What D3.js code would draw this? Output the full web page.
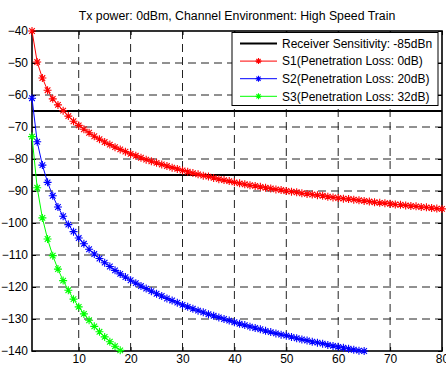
<!DOCTYPE html>
<html><head><meta charset="utf-8">
<script src="https://cdn.jsdelivr.net/npm/d3@7"></script>
<style>body{margin:0;background:#fff}svg{display:block}text{font-family:"Liberation Sans",Arial,sans-serif}</style>
</head><body><div id="chart"></div>
<script>
const title = "Tx power: 0dBm, Channel Environment: High Speed Train";
const xTicks = [10,20,30,40,50,60,70,80];
const yTicks = [-40,-50,-60,-70,-80,-90,-100,-110,-120,-130,-140];
const thresholds = [-65,-85];
const seriesNames = ["S1(Penetration Loss: 0dB)","S2(Penetration Loss: 20dB)","S3(Penetration Loss: 32dB)"];
const legendLineLabel = "Receiver Sensitivity: -85dBn";
const s1 = [-40.0,-49.7,-54.7,-58.5,-61.2,-63.1,-64.9,-66.6,-68.2,-69.5,
  -70.7,-71.8,-72.9,-73.8,-74.7,-75.5,-76.3,-77.0,-77.7,-78.4,
  -79.0,-79.6,-80.2,-80.7,-81.2,-81.7,-82.2,-82.7,-83.1,-83.6,
  -84.0,-84.4,-84.8,-85.2,-85.5,-85.9,-86.3,-86.6,-86.9,-87.3,
  -87.6,-87.9,-88.2,-88.4,-88.7,-89.0,-89.2,-89.5,-89.7,-90.0,
  -90.2,-90.4,-90.7,-90.9,-91.1,-91.3,-91.5,-91.8,-92.0,-92.2,
  -92.4,-92.5,-92.7,-92.9,-93.1,-93.3,-93.5,-93.7,-93.8,-94.0,
  -94.2,-94.3,-94.5,-94.7,-94.8,-95.0,-95.1,-95.3,-95.5,-95.6];
const s2 = [-61.0,-74.6,-81.9,-87.3,-91.5,-95.0,-97.9,-100.5,-102.7,-104.7,
  -106.5,-108.2,-109.7,-111.1,-112.4,-113.6,-114.8,-115.9,-116.9,-117.9,
  -118.8,-119.7,-120.5,-121.3,-122.1,-122.8,-123.6,-124.2,-124.9,-125.6,
  -126.2,-126.8,-127.4,-127.9,-128.5,-129.0,-129.5,-130.0,-130.5,-131.0,
  -131.5,-131.9,-132.4,-132.8,-133.2,-133.7,-134.1,-134.5,-134.9,-135.2,
  -135.6,-136.0,-136.4,-136.7,-137.1,-137.4,-137.7,-138.1,-138.4,-138.7,
  -139.0,-139.3,-139.6,-139.9,-140.0];
const s3 = [-73.0,-89.0,-98.4,-105.0,-110.2,-114.4,-118.0,-121.0,-123.8,-126.2,
  -128.4,-130.4,-132.3,-134.0,-135.6,-137.1,-138.5,-139.8];
const colors = ["#ff0000","#0000ff","#00ff00"];

const W = 446, H = 367;
const svg = d3.select("#chart").append("svg").attr("width",W).attr("height",H);
const x = d3.scaleLinear().domain([1,80]).range([32,442]);
const y = d3.scaleLinear().domain([-140,-40]).range([351,31]);

// grid
const g = svg.append("g");
g.selectAll("line.vg").data(xTicks.slice(0,-1)).join("line")
  .attr("x1",d=>x(d)).attr("x2",d=>x(d)).attr("y1",y(-40)).attr("y2",y(-140))
  .attr("stroke","#222").attr("stroke-width",1).attr("stroke-dasharray","8,5");
g.selectAll("line.hg").data(yTicks.slice(1,-1)).join("line")
  .attr("x1",x(1)).attr("x2",x(80)).attr("y1",d=>y(d)).attr("y2",d=>y(d))
  .attr("stroke","#222").attr("stroke-width",1).attr("stroke-dasharray","8,5");

// thresholds
g.selectAll("line.th").data(thresholds).join("line")
  .attr("x1",x(1)).attr("x2",x(80)).attr("y1",d=>y(d)).attr("y2",d=>y(d))
  .attr("stroke","#000").attr("stroke-width",2);

// axes
const xAxis = d3.axisBottom(x).tickValues(xTicks).tickSize(-4).tickPadding(3.5);
const yAxis = d3.axisLeft(y).tickValues(yTicks).tickSize(-4).tickPadding(4);
const xa = svg.append("g").attr("transform",`translate(0,${y(-140)})`).call(xAxis);
const ya = svg.append("g").attr("transform",`translate(${x(1)},0)`).call(yAxis);
const xt = svg.append("g").attr("transform",`translate(0,${y(-40)})`).call(d3.axisTop(x).tickValues(xTicks).tickSize(-4).tickFormat(""));
const yr = svg.append("g").attr("transform",`translate(${x(80)},0)`).call(d3.axisRight(y).tickValues(yTicks).tickSize(-4).tickFormat(""));
[xa,ya,xt,yr].forEach(a=>{
  a.select(".domain").remove();
  a.selectAll(".tick line").attr("stroke","#000");
  a.selectAll("text").attr("font-size",12).attr("fill","#000")
   .style("font-family","'Liberation Sans',Arial,sans-serif");
});
svg.append("rect").attr("x",x(1)).attr("y",y(-40)).attr("width",x(80)-x(1)).attr("height",y(-140)-y(-40))
  .attr("fill","none").attr("stroke","#000").attr("stroke-width",1.6);

// series
const all = [s1,s2,s3];
const line = d3.line().x((d,i)=>x(i+1)).y(d=>y(d));
function star(sel, cx, cy, col, r){
  const p = `M${cx-r},${cy}L${cx+r},${cy}M${cx},${cy-r}L${cx},${cy+r}` +
    `M${cx-r*0.7},${cy-r*0.7}L${cx+r*0.7},${cy+r*0.7}M${cx-r*0.7},${cy+r*0.7}L${cx+r*0.7},${cy-r*0.7}`;
  sel.append("path").attr("d",p).attr("stroke",col).attr("stroke-width",1.1).attr("fill","none");
}
all.forEach((data,k)=>{
  const sg = svg.append("g");
  sg.append("path").datum(data).attr("d",line).attr("fill","none").attr("stroke",colors[k]).attr("stroke-width",1);
  data.forEach((v,i)=>star(sg, x(i+1), y(v), colors[k], 4));
});

// legend
const lg = svg.append("g");
lg.append("rect").attr("x",232).attr("y",32.5).attr("width",206).attr("height",73)
  .attr("fill","#fff").attr("stroke","#000").attr("stroke-width",1);
const rows = [{label:legendLineLabel,col:"#000",w:2,mk:false}]
  .concat(seriesNames.map((n,k)=>({label:n,col:colors[k],w:1,mk:true})));
rows.forEach((r,i)=>{
  const cy = 43.5 + i*17.6;
  lg.append("line").attr("x1",240).attr("x2",277).attr("y1",cy).attr("y2",cy)
    .attr("stroke",r.col).attr("stroke-width",r.w);
  if(r.mk) star(lg,258.5,cy,r.col,3);
  lg.append("text").attr("x",282).attr("y",cy+4.3).attr("font-size",12).attr("fill","#000").text(r.label);
});

svg.append("text").attr("x",237).attr("y",20).attr("text-anchor","middle")
  .attr("font-size",12.3).attr("fill","#000").text(title);
</script></body></html>
